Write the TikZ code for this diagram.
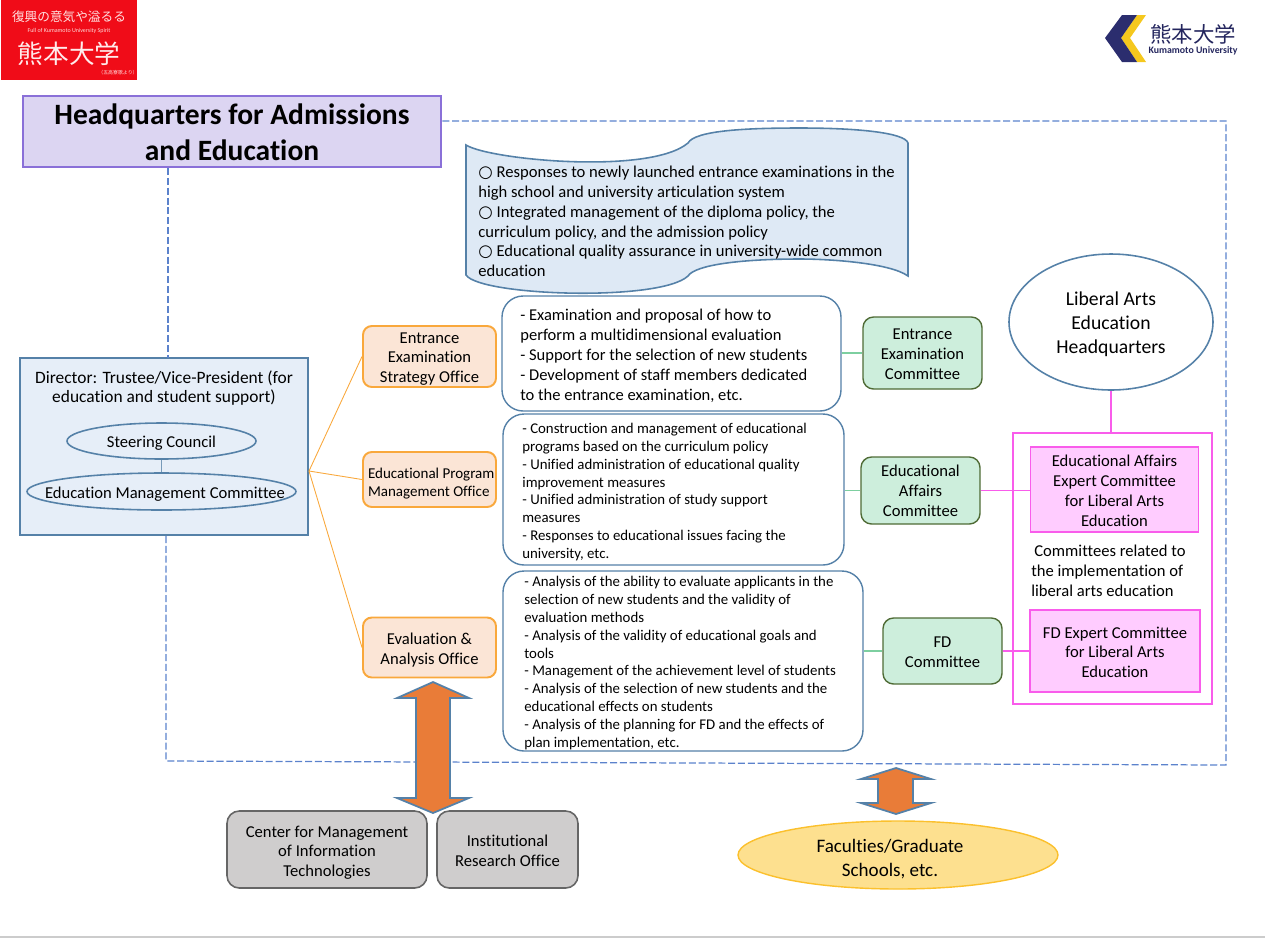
\documentclass[tikz,border=0pt]{standalone}
\usepackage{fontspec}
\setmainfont[Ligatures=NoCommon]{Carlito}
\newfontfamily\cjkfont{Noto Sans CJK JP}
\newfontfamily\circfont{DejaVu Sans}
\usepackage{xcolor}
\usetikzlibrary{shapes.geometric}
\definecolor{dashblue}{HTML}{5B82CC}
\definecolor{edgeblue}{HTML}{5581A8}
\definecolor{paleblue}{HTML}{E6EEF8}
\definecolor{scrollblue}{HTML}{DEE9F5}
\definecolor{titlefill}{HTML}{DCD5F2}
\definecolor{titleedge}{HTML}{8A70D8}
\definecolor{officefill}{HTML}{FBE5D6}
\definecolor{officeedge}{HTML}{F9A83C}
\definecolor{cmtefill}{HTML}{CDEEDC}
\definecolor{cmteedge}{HTML}{4F6B35}
\definecolor{cmteline}{HTML}{7DCFA0}
\definecolor{pinkfill}{HTML}{FFCCFF}
\definecolor{pinkedge}{HTML}{F95CEB}
\definecolor{greyfill}{HTML}{CFCDCD}
\definecolor{arrowfill}{HTML}{E97C38}
\definecolor{facultyfill}{HTML}{FDE08F}
\definecolor{facultyedge}{HTML}{FBC02D}
\definecolor{logored}{HTML}{F00C18}
\definecolor{logonavy}{HTML}{2B2D6E}
\definecolor{logoyellow}{HTML}{F5C81E}
\newcommand{\px}{0.02cm}
\newcommand{\nudge}[1]{\rule{0pt}{#1}}
\tikzset{
  bodytext/.style={font=\fontsize{9.45}{11.3}\selectfont, align=center},
  smalltext/.style={font=\fontsize{8.45}{10.13}\selectfont, align=left},
  bigtext/.style={font=\fontsize{11.2}{13.7}\selectfont, align=center},
  office/.style={draw=officeedge, fill=officefill, line width=1.1pt, rounded corners=5pt, bodytext, inner sep=0pt},
  duty/.style={draw=edgeblue, fill=white, line width=0.8pt, rounded corners=12pt},
  committee/.style={draw=cmteedge, fill=cmtefill, line width=0.8pt, rounded corners=6pt, bodytext, inner sep=0pt},
  expert/.style={draw=pinkedge, fill=pinkfill, line width=0.8pt, bodytext, inner sep=0pt},
  greybox/.style={draw=black!60, fill=greyfill, line width=0.9pt, rounded corners=7pt, bodytext, inner sep=0pt},
  oval/.style={ellipse, draw=edgeblue, line width=0.9pt, inner sep=0pt, bodytext},
  bothways/.style={draw=edgeblue, fill=arrowfill, line width=1pt, line join=miter},
  hqline/.style={draw=dashblue, line width=0.7pt, dash pattern=on 4pt off 1.6pt},
}

\begin{document}
\begin{tikzpicture}[x=\px, y=-\px]
  \useasboundingbox (0,0) rectangle (1265,938);
  \draw[black!20, line width=0.6pt] (0,937) -- (1265,937);

  % Red logo, top left
  \fill[logored] (1,0) rectangle (137,80);
  \node[text=white!88!red, font=\cjkfont\fontsize{7.2}{8}\selectfont, inner sep=0pt] (mottojp) at (69,17) {復興の意気や溢るる};
  \node[text=white!85!red, font=\fontsize{3.4}{4}\selectfont, inner sep=0pt] (mottoen) at (69,31) {Full of Kumamoto University Spirit};
  \node[text=white!92!red, font=\cjkfont\fontsize{14.6}{16}\selectfont, inner sep=0pt] (namejp) at (69,54) {熊本大学};
  \node[text=white!85!red, font=\cjkfont\fontsize{2.8}{3}\selectfont, inner sep=0pt] (source) at (118,72.5) {（五高寮歌より）};

  % University logo, top right
  \fill[logoyellow] (1137,15) -- (1146,15) -- (1130,38) -- (1146,62) -- (1137,62) -- (1121,38) -- cycle;
  \fill[logonavy] (1105,38) -- (1122,15) -- (1137,15) -- (1121,38) -- (1137,62) -- (1122,62) -- cycle;
  \node[text=logonavy!85!black, font=\cjkfont\fontsize{12.2}{13}\selectfont, inner sep=0pt] (logojp) at (1193,34) {熊本大学};
  \node[text=logonavy!85!black, font=\bfseries\fontsize{5.6}{6}\selectfont, inner sep=0pt] (logoen) at (1193,51) {Kumamoto University};

  % Dashed frame of the headquarters
  \node[draw=titleedge, fill=titlefill, line width=1pt, minimum width=418*\px, minimum height=71*\px,
    inner sep=0pt, font=\bfseries\fontsize{16.8}{20.4}\selectfont, align=center] (hq) at (232,131.5) {\nudge{12.6pt}Headquarters for Admissions\\and Education};
  \node[draw=edgeblue, fill=paleblue, line width=1pt, minimum width=288*\px, minimum height=177*\px, inner sep=0pt] (director) at (164,446.5) {};
  \coordinate (frameSW) at (166,761);
  \coordinate (frameSE) at (1226,765);
  \coordinate (frameNE) at (1226,121);
  \draw[hqline] (168,168) -- (168,358);
  \draw[hqline] (166,536) -- (frameSW) -- (frameSE) -- (frameNE) -- (hq.east |- frameNE);

  % Mission scroll
  \draw[draw=edgeblue, fill=scrollblue, line width=0.9pt] (466,145)
    .. controls (490,160) and (650,175) .. (688,143)
    .. controls (695,130) and (750,128) .. (800,128)
    .. controls (860,128) and (905,133) .. (908,143)
    -- (908,276)
    .. controls (890,263) and (830,259) .. (800,259)
    .. controls (740,259) and (695,265) .. (688,276)
    .. controls (660,302) and (480,296) .. (466,275) -- cycle;
  \node[bodytext, align=left, anchor=west, inner sep=0pt] (mission) at (478,221.5) {{\circfont ○} Responses to newly launched entrance examinations in the\\
    high school and university articulation system\\
    {\circfont ○} Integrated management of the diploma policy, the\\
    curriculum policy, and the admission policy\\
    {\circfont ○} Educational quality assurance in university-wide common\\
    education};

  % Director box
  \node[bodytext, font=\fontsize{9.9}{11.3}\selectfont, inner sep=0pt] (directorlabel) at (164,388) {Director: Trustee/Vice-President (for\\education and student support)};
  \node[oval, minimum width=189*\px, minimum height=36*\px] (steering) at (161.5,441) {\nudge{8.5pt}Steering Council};
  \node[oval, minimum width=269*\px, minimum height=37*\px] (management) at (161.5,491.5) {};
  \node[bodytext, inner sep=0pt] (managementlabel) at (165,494) {Education Management Committee};
  \draw[edgeblue!80, line width=0.5pt] (steering) -- (management);

  % Offices
  \node[office, minimum width=133*\px, minimum height=61*\px] (entrance) at (429.5,356.5) {\nudge{9pt}Entrance\\Examination\\Strategy Office};
  \node[office, minimum width=133*\px, minimum height=55*\px, font=\fontsize{8.55}{10.2}\selectfont, align=left] (program) at (429.5,479.5) {\nudge{10.4pt}\hspace*{2pt}Educational Program\\\hspace*{2pt}Management Office};
  \node[office, minimum width=133*\px, minimum height=60*\px] (evaluation) at (429.5,647.5) {\nudge{9pt}Evaluation \&\\Analysis Office};
  \coordinate (fan) at (309,471);
  \draw[officeedge, line width=0.5pt] (entrance.west) -- (fan) -- (program.west);
  \draw[officeedge, line width=0.5pt] (fan) -- (evaluation.west);

  % Duties of the offices
  \node[duty, minimum width=339*\px, minimum height=115*\px] (entranceduty) at (671.5,353.5) {};
  \node[bodytext, align=left, anchor=west, inner sep=0pt, font=\fontsize{9.4}{11.35}\selectfont] (entrancetext) at (520,355.5) {- Examination and proposal of how to\\
    perform a multidimensional evaluation\\
    - Support for the selection of new students\\
    - Development of staff members dedicated\\
    to the entrance examination, etc.};
  \node[duty, minimum width=341*\px, minimum height=151*\px] (programduty) at (673.5,489.5) {};
  \node[smalltext, anchor=west, inner sep=0pt] (programtext) at (522,492) {- Construction and management of educational\\
    programs based on the curriculum policy\\
    - Unified administration of educational quality\\
    improvement measures\\
    - Unified administration of study support\\
    measures\\
    - Responses to educational issues facing the\\
    university, etc.};
  \node[duty, minimum width=360*\px, minimum height=180*\px] (evaluationduty) at (683,661) {};
  \node[smalltext, anchor=west, inner sep=0pt] (evaluationtext) at (524,663) {- Analysis of the ability to evaluate applicants in the\\
    selection of new students and the validity of\\
    evaluation methods\\
    - Analysis of the validity of educational goals and\\
    tools\\
    - Management of the achievement level of students\\
    - Analysis of the selection of new students and the\\
    educational effects on students\\
    - Analysis of the planning for FD and the effects of\\
    plan implementation, etc.};

  % Committees
  \node[committee, minimum width=119*\px, minimum height=72*\px] (entrancecmte) at (922.5,353) {\nudge{7.6pt}Entrance\\Examination\\Committee};
  \node[committee, minimum width=119*\px, minimum height=67*\px] (affairscmte) at (920.5,490.5) {\nudge{7pt}Educational\\Affairs\\Committee};
  \node[committee, minimum width=119*\px, minimum height=66*\px] (fdcmte) at (942.5,651) {\nudge{7.6pt}FD\\Committee};
  \draw[cmteline, line width=0.6pt] (entranceduty.east |- entrancecmte.west) -- (entrancecmte.west);
  \draw[cmteline, line width=0.6pt] (programduty.east |- affairscmte.west) -- (affairscmte.west);
  \draw[cmteline, line width=0.6pt] (evaluationduty.east |- fdcmte.west) -- (fdcmte.west);

  % Liberal arts
  \node[draw=pinkedge, line width=0.6pt, minimum width=199*\px, minimum height=271*\px, inner sep=0pt] (artsframe) at (1112.5,568.5) {};
  \node[oval, bigtext, minimum width=204*\px, minimum height=136*\px] (arts) at (1111,322) {\nudge{10pt}Liberal Arts\\Education\\Headquarters};
  \draw[pinkedge, line width=0.6pt] (arts.south) -- (arts.south |- artsframe.north);
  \node[expert, minimum width=168.5*\px, minimum height=85*\px] (affairsexpert) at (1114.5,489.5) {\nudge{8pt}Educational Affairs\\Expert Committee\\for Liberal Arts\\Education};
  \node[bodytext, align=left, anchor=west, inner sep=0pt] (relatedtext) at (1031,571) {\hspace*{1.7pt}Committees related to\\the implementation of\\liberal arts education};
  \node[expert, minimum width=170*\px, minimum height=82*\px] (fdexpert) at (1115,651) {\nudge{8pt}FD Expert Committee\\for Liberal Arts\\Education};
  \draw[pinkedge, line width=0.6pt] (affairscmte.east) -- (affairsexpert.west |- affairscmte.east);
  \draw[pinkedge, line width=0.6pt] (fdcmte.east) -- (fdexpert.west);

  % Outside the headquarters
  \node[greybox, minimum width=200*\px, minimum height=77*\px] (center) at (327,849.5) {\nudge{10pt}Center for Management\\of Information\\Technologies};
  \node[greybox, minimum width=141*\px, minimum height=77*\px] (research) at (507.5,849.5) {\nudge{7.8pt}Institutional\\Research Office};
  \node[ellipse, draw=facultyedge, fill=facultyfill, line width=0.8pt, minimum width=320*\px, minimum height=68*\px, inner sep=0pt] (faculties) at (898,855) {};
  \node[bigtext, font=\fontsize{10.85}{13.7}\selectfont, inner sep=0pt] (facultieslabel) at (890,859) {Faculties/Graduate\\Schools, etc.};

  % Double arrows
  \draw[bothways] (433,682) -- (469,698) -- (450,698) -- (450,798) -- (469,798) -- (433,813)
    -- (397,798) -- (416,798) -- (416,698) -- (397,698) -- cycle;
  \draw[bothways] (896,768) -- (931,779) -- (913,779) -- (913,803) -- (931,803) -- (896,814)
    -- (861,803) -- (878,803) -- (878,779) -- (861,779) -- cycle;
\end{tikzpicture}
\end{document}
